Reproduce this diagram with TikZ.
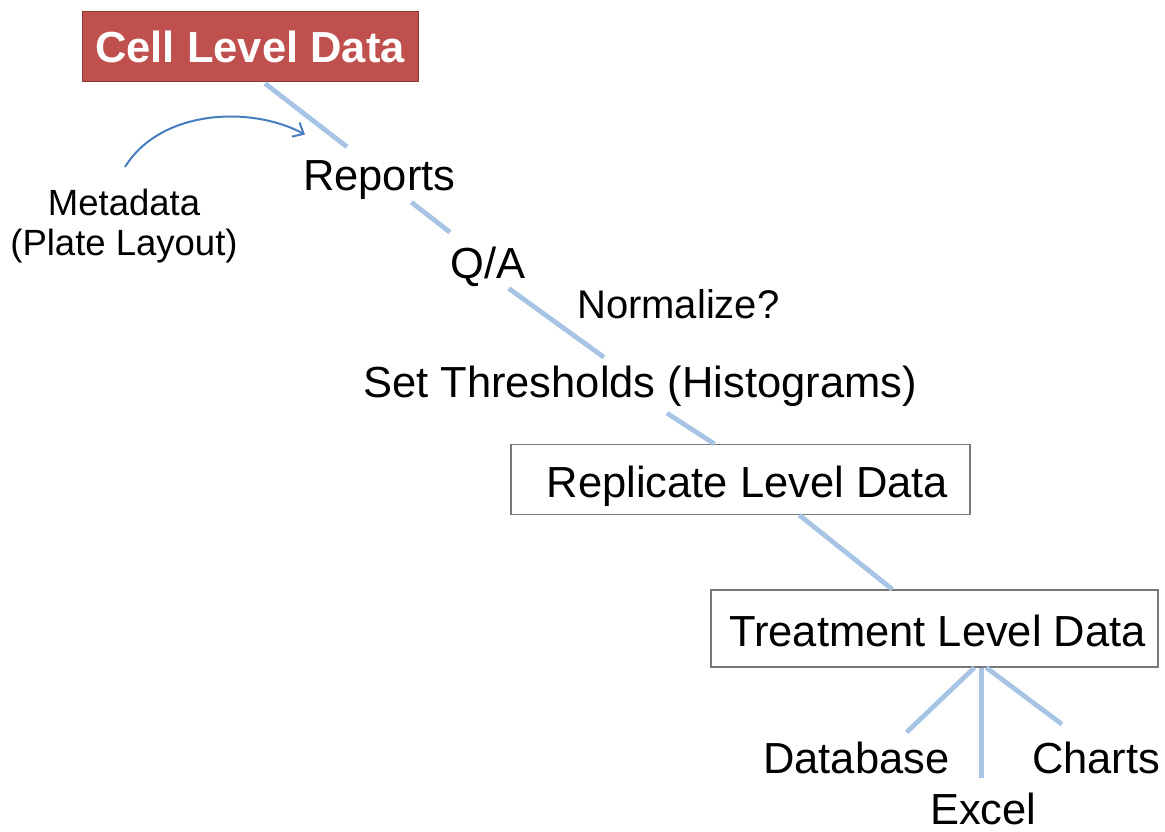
\documentclass[tikz,border=0pt]{standalone}
\usepackage{fontspec}
\setmainfont{Liberation Sans}
\usetikzlibrary{calc,arrows.meta}
\definecolor{cellred}{RGB}{192,80,77}
\definecolor{cellborder}{RGB}{140,56,54}
\definecolor{linkblue}{RGB}{168,196,228}
\definecolor{arrowblue}{RGB}{70,126,192}
\definecolor{boxgray}{RGB}{120,120,120}
\begin{document}
\begin{tikzpicture}[x=1pt,y=-1pt,
  big/.style={inner sep=0pt,font=\fontsize{43.5}{48}\selectfont},
  mid/.style={inner sep=0pt,font=\fontsize{40}{44}\selectfont},
  small/.style={inner sep=0pt,font=\fontsize{36.5}{40}\selectfont},
  levelbox/.style={draw=boxgray,line width=1.3pt,inner sep=0pt,text height=36pt,text depth=1pt,font=\fontsize{43.5}{48}\selectfont},
  conn/.style={draw=linkblue,line width=4.8pt},
  metaarrow/.style={draw=arrowblue,line width=2pt,-{Straight Barb[length=9pt,width=16pt,line width=2pt]}}]
\useasboundingbox[fill=white] (0,0) rectangle (1165,832);

% boxes
\node[fill=cellred,draw=cellborder,line width=1pt,minimum width=336pt,minimum height=70pt,inner sep=0pt,
      text=white,font=\fontsize{43.5}{48}\selectfont\bfseries] (cell) at (250,47) {Cell Level Data};
\node[levelbox,minimum width=459pt,minimum height=70pt] (rep) at (740.5,479.5) {\hspace*{14pt}Replicate Level Data};
\node[levelbox,minimum width=447pt,minimum height=77pt] (treat) at (934.5,628.5) {\hspace*{6pt}Treatment Level Data};

% text nodes
\node[big,anchor=base west] (reports) at (303,190) {Reports};
\node[big,anchor=base west] (qa) at (450,278) {Q/A};
\node[mid,anchor=base west] (norm) at (577,318) {Normalize?};
\node[big,anchor=base west] (sets) at (363,397) {Set Thresholds (Histograms)};
\node[small,anchor=north,align=center] (meta) at (124,189) {Metadata\\(Plate Layout)};
\node[big,anchor=base west] (db) at (763,773) {Database};
\node[big,anchor=base west] (charts) at (1032,773) {Charts};
\node[big,anchor=base west] (excel) at (930,824) {Excel};

% main flow connectors
\draw[conn] ($(cell.south)+(15,1)$) -- ($(reports.north west)+(44,-13)$);
\draw[conn] ($(reports.south)+(32,3)$) -- ($(qa.north west)+(0,-14)$);
\draw[conn] ($(qa.south)+(21,2)$) -- ($(sets.north)+(-36,-8)$);
\draw[conn] ($(sets.south)+(27,7)$) -- ($(rep.north west)+(204,0)$);
\draw[conn] ($(rep.south west)+(289,0)$) -- ($(treat.north west)+(182,0)$);

% outputs
\draw[conn] ($(treat.south west)+(264,0)$) -- ($(db.north east)+(-43,-9)$);
\draw[conn] ($(treat.south west)+(271,0)$) -- ($(treat.south west)+(271,110)$) coordinate (excelend);
\draw[conn] ($(treat.south west)+(276,0)$) -- ($(charts.north west)+(30,-17)$);

% metadata arrow
\draw[metaarrow] ($(meta.north)+(1,-22)$) .. controls (160,110) and (250,105) .. ($(reports.west)+(2,-45)$);
\end{tikzpicture}
\end{document}
